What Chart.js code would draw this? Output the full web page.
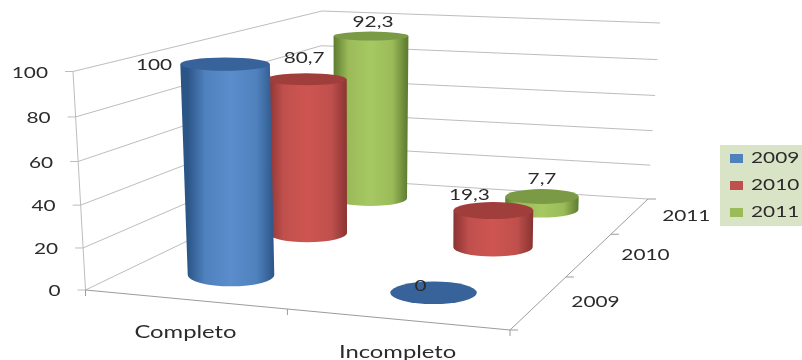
<!DOCTYPE html>
<html>
<head>
<meta charset="utf-8">
<title>Completo / Incompleto</title>
<script src="https://cdn.jsdelivr.net/npm/chart.js@4/dist/chart.umd.min.js"></script>
<style>
  html, body { margin: 0; padding: 0; background: #fff; }
  canvas { display: block; }
</style>
</head>
<body>
<canvas id="chart" width="802" height="360"></canvas>
<script>
const categories = ['Completo', 'Incompleto'];
const seriesNames = ['2009', '2010', '2011'];
const values2009 = [100, 0];
const values2010 = [80.7, 19.3];
const values2011 = [92.3, 7.7];

// Box corners on screen, front-left, front-right, back-right, back-left
const floorCorners = [[85.5, 290], [510, 330], [648, 199], [318, 178]];
const roofCorners = [[73, 71.5], [516, 102], [660, 23], [322, 11]];

const TEXT_STYLE = { size: 16, stretch: 1.3 };
const CATEGORY_STYLE = { size: 17, stretch: 1.4 };
const INK = '#2b2b2b';
const GRID = '#bdbdbd';
const AXIS = '#9c9c9c';

// Column radius in box units, and how far a column follows the walls' lean
const RADIUS_U = 0.107;
const RADIUS_V = 0.078;
const COLUMN_LEAN = 0.6;
const SLOT_NUDGE = 0.006;
// Value axis spacing widens slightly towards the top
const HEIGHT_PERSPECTIVE = 0.05;

const palette = [
  { solid: '#4f81bd', edge: '#2c5587', mid: '#5b8dcc', cap: '#37629a' },
  { solid: '#c0504d', edge: '#8a3432', mid: '#ce5551', cap: '#a03e3c' },
  { solid: '#9bbb59', edge: '#5f7d31', mid: '#a6c963', cap: '#7a9a45' }
];

// Label nudges per series and category
const labelShift = [
  [[-71, 1], [-13, -7]],
  [[-2, -21], [-24, -16]],
  [[2, -14], [0, -18]]
];

function homography(c) {
  const [[x0, y0], [x1, y1], [x2, y2], [x3, y3]] = c;
  const dx1 = x1 - x2, dx2 = x3 - x2, sx = x0 - x1 + x2 - x3;
  const dy1 = y1 - y2, dy2 = y3 - y2, sy = y0 - y1 + y2 - y3;
  const det = dx1 * dy2 - dx2 * dy1;
  const g = (sx * dy2 - dx2 * sy) / det;
  const h = (dx1 * sy - sx * dy1) / det;
  const a = x1 - x0 + g * x1, b = x3 - x0 + h * x3;
  const d = y1 - y0 + g * y1, e = y3 - y0 + h * y3;
  return (u, v) => {
    const w = g * u + h * v + 1;
    return [(a * u + b * v + x0) / w, (d * u + e * v + y0) / w];
  };
}

const floorMap = homography(floorCorners);
const roofMap = homography(roofCorners);

// u along categories, v along series depth, t = share of the value axis
function project(u, v, t) {
  const f = floorMap(u, v);
  const r = roofMap(u, v);
  const k = t / (1 + HEIGHT_PERSPECTIVE * (1 - t));
  return [f[0] + (r[0] - f[0]) * k, f[1] + (r[1] - f[1]) * k];
}

function slot(c, s) {
  return {
    u: (c + 0.5) / categories.length + SLOT_NUDGE,
    v: (s + 0.5) / seriesNames.length
  };
}

function columnPoints(values, s) {
  return values.map((value, c) => {
    const { u, v } = slot(c, s);
    const base = project(u, v, 0);
    const top = project(u, v, value / 100);
    const topX = base[0] + (top[0] - base[0]) * COLUMN_LEAN;
    return { x: base[0], y: [base[1], top[1]], topX, value };
  });
}

// Radii are measured mid-box so both categories get the same column width
function radiiAt(v, t) {
  const l = project(0.5 - RADIUS_U, v, t), r = project(0.5 + RADIUS_U, v, t);
  const n = project(0.5, v - RADIUS_V, t), f = project(0.5, v + RADIUS_V, t);
  return { rx: Math.abs(r[0] - l[0]) / 2, ry: Math.abs(n[1] - f[1]) / 2 };
}

// The y scale is reversed, so a floating bar's head and base swap on screen
function barEnds(bar) {
  return { topY: Math.min(bar.y, bar.base), floorY: Math.max(bar.y, bar.base) };
}

function putText(ctx, text, x, y, align, style = TEXT_STYLE) {
  ctx.save();
  ctx.translate(x, y);
  ctx.scale(style.stretch, 1);
  ctx.font = style.size + 'px Lato, sans-serif';
  ctx.fillStyle = INK;
  ctx.textAlign = align;
  ctx.textBaseline = 'middle';
  ctx.fillText(text, 0, 0);
  ctx.restore();
}

function segment(ctx, a, b, color) {
  ctx.strokeStyle = color;
  ctx.lineWidth = 1;
  ctx.beginPath();
  ctx.moveTo(a[0], a[1]);
  ctx.lineTo(b[0], b[1]);
  ctx.stroke();
}

function drawBox(chart) {
  const ctx = chart.ctx;
  const scale = chart.scales.value;

  // Gridlines along both walls, with value labels on the left edge
  scale.ticks.forEach(tick => {
    const t = (tick.value - scale.min) / (scale.max - scale.min);
    const front = project(0, 0, t), back = project(0, 1, t), right = project(1, 1, t);
    segment(ctx, front, back, GRID);
    segment(ctx, back, right, GRID);
    const stubEnd = [front[0] - 8, front[1]];
    segment(ctx, front, stubEnd, GRID);
    putText(ctx, tick.label, stubEnd[0] - 17, front[1] + 1, 'right');
  });
  segment(ctx, project(0, 0, 0), project(0, 0, 1), GRID);

  // Floor edges and their tick stubs
  segment(ctx, project(0, 0, 0), project(1, 0, 0), AXIS);
  segment(ctx, project(1, 0, 0), project(1, 1, 0), AXIS);
  for (let c = 0; c <= categories.length; c++) {
    const p = project(c / categories.length, 0, 0);
    segment(ctx, p, [p[0], p[1] + 6], AXIS);
  }
  for (let s = 0; s <= seriesNames.length; s++) {
    const p = project(1, s / seriesNames.length, 0);
    segment(ctx, p, [p[0] + 8, p[1]], AXIS);
  }

  categories.forEach((name, c) => {
    const p = project(slot(c, 0).u, 0, 0);
    putText(ctx, name, p[0] - 1, p[1] + 33, 'center', CATEGORY_STYLE);
  });
  seriesNames.forEach((name, s) => {
    const p = project(1, slot(0, s).v, 0);
    putText(ctx, name, p[0] + 56, p[1], 'center');
  });
}

function drawColumn(chart, bar, raw, s) {
  const ctx = chart.ctx;
  const colors = palette[s];
  const v = slot(0, s).v;
  const low = radiiAt(v, 0);
  const high = radiiAt(v, raw.value / 100);
  const { topY, floorY } = barEnds(bar);

  if (raw.value > 0) {
    const g = ctx.createLinearGradient(bar.x - low.rx, 0, bar.x + low.rx, 0);
    g.addColorStop(0, colors.edge);
    g.addColorStop(0.2, colors.solid);
    g.addColorStop(0.5, colors.mid);
    g.addColorStop(0.8, colors.solid);
    g.addColorStop(1, colors.edge);
    ctx.fillStyle = g;
    ctx.beginPath();
    ctx.moveTo(raw.topX - high.rx, topY);
    ctx.lineTo(bar.x - low.rx, floorY);
    ctx.ellipse(bar.x, floorY, low.rx, low.ry, 0, Math.PI, 0, true);
    ctx.lineTo(raw.topX + high.rx, topY);
    ctx.closePath();
    ctx.fill();
  }

  ctx.fillStyle = colors.cap;
  ctx.beginPath();
  ctx.ellipse(raw.topX, topY, high.rx, high.ry, 0, 0, Math.PI * 2);
  ctx.fill();
}

function drawLabels(chart) {
  const ctx = chart.ctx;
  chart.data.datasets.forEach((ds, s) => {
    chart.getDatasetMeta(s).data.forEach((bar, c) => {
      const raw = ds.data[c];
      const shift = labelShift[s][c];
      const text = String(raw.value).replace('.', ',');
      putText(ctx, text, raw.topX + shift[0], barEnds(bar).topY + shift[1], 'center');
    });
  });
}

function drawLegend(chart) {
  const ctx = chart.ctx;
  ctx.fillStyle = '#d9e3c6';
  ctx.fillRect(720, 145, 82, 81);
  chart.data.datasets.forEach((ds, s) => {
    const y = 158 + s * 27;
    ctx.fillStyle = ds.backgroundColor;
    ctx.fillRect(730, y - 4, 13, 9);
    putText(ctx, ds.label, 751, y, 'left');
  });
}

const cylinderPlugin = {
  id: 'cylinders',
  beforeDraw(chart) {
    chart.ctx.save();
    chart.ctx.fillStyle = '#fff';
    chart.ctx.fillRect(0, 0, chart.width, chart.height);
    chart.ctx.restore();
  },
  beforeDatasetsDraw(chart) {
    drawBox(chart);
  },
  beforeDatasetDraw(chart, args) {
    const ds = chart.data.datasets[args.index];
    args.meta.data.forEach((bar, c) => drawColumn(chart, bar, ds.data[c], args.index));
    return false;
  },
  afterDatasetsDraw(chart) {
    drawLabels(chart);
    drawLegend(chart);
  }
};

new Chart(document.getElementById('chart'), {
  type: 'bar',
  data: {
    datasets: [values2009, values2010, values2011].map((values, s) => ({
      label: seriesNames[s],
      data: columnPoints(values, s),
      backgroundColor: palette[s].solid,
      grouped: false
    }))
  },
  options: {
    responsive: false,
    animation: false,
    devicePixelRatio: 1,
    parsing: { xAxisKey: 'x', yAxisKey: 'y' },
    plugins: { legend: { display: false }, tooltip: { enabled: false } },
    scales: {
      x: { type: 'linear', display: false, offset: false, min: 0, max: 802 },
      y: { type: 'linear', display: false, reverse: true, min: 0, max: 360 },
      value: { type: 'linear', axis: 'y', display: false, min: 0, max: 100, ticks: { stepSize: 20 } }
    }
  },
  plugins: [cylinderPlugin]
});
</script>
</body>
</html>
